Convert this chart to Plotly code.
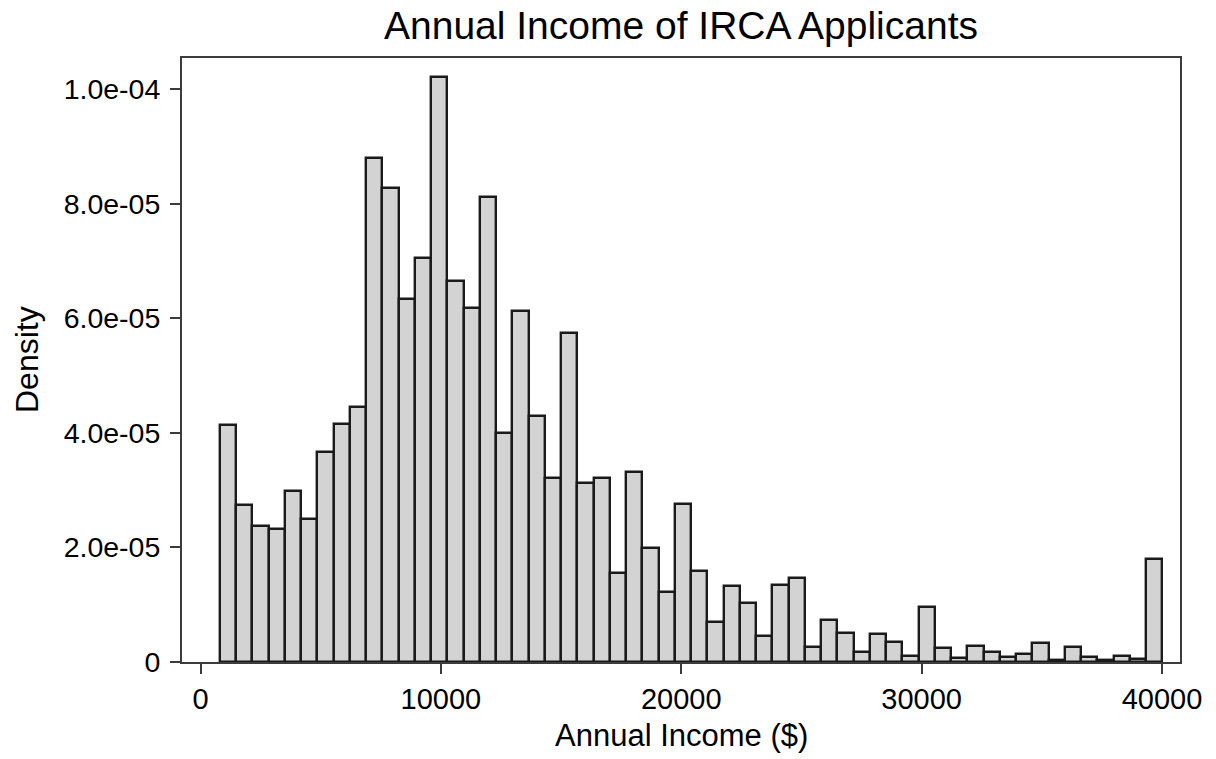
import plotly.graph_objects as go

# Histogram of annual income: 58 equal-width bins, density scale
bin_start = 810
bin_width = 676
density_e6 = [
    41.3, 27.4, 23.7, 23.2, 29.9, 24.9, 36.6, 41.6, 44.5, 88.0,
    82.8, 63.4, 70.5, 102.0, 66.5, 61.8, 81.1, 40.0, 61.3, 42.9,
    32.1, 57.4, 31.2, 32.1, 15.6, 33.2, 19.9, 12.2, 27.5, 15.9,
    7.0, 13.2, 10.3, 4.6, 13.5, 14.7, 2.6, 7.3, 5.1, 1.8,
    4.9, 3.5, 1.1, 9.6, 2.5, 0.7, 2.8, 1.7, 0.8, 1.4,
    3.4, 0.3, 2.6, 0.8, 0.3, 1.0, 0.5, 18.0,
]

x_tick_vals = [0, 10000, 20000, 30000, 40000]
x_tick_text = ["0", "10000", "20000", "30000", "40000"]
y_tick_vals = [0, 2e-5, 4e-5, 6e-5, 8e-5, 1e-4]
y_tick_text = ["0", "2.0e-05", "4.0e-05", "6.0e-05", "8.0e-05", "1.0e-04"]

centers = [bin_start + bin_width * (i + 0.5) for i in range(len(density_e6))]
density = [d * 1e-6 for d in density_e6]

FONT = "Liberation Sans, Arial, Helvetica, sans-serif"
INK = "#1a1a1a"
FRAME = "#3c3c3c"

fig = go.Figure(
    go.Bar(
        x=centers,
        y=density,
        width=bin_width,
        marker=dict(color="#d3d3d3", line=dict(color=INK, width=2.4)),
        hoverinfo="skip",
    )
)

fig.update_layout(
    width=1216,
    height=759,
    margin=dict(l=182, r=36, t=58, b=97),
    paper_bgcolor="white",
    plot_bgcolor="white",
    showlegend=False,
    bargap=0,
    font=dict(family=FONT, color="black"),
    title=dict(
        text="Annual Income of IRCA Applicants",
        font=dict(family=FONT, size=39, color="black"),
        x=0.5, xref="paper", xanchor="center",
        y=1 - 25 / 759, yref="container", yanchor="middle",
    ),
    xaxis=dict(
        range=[-770, 40749],
        tickvals=x_tick_vals,
        ticktext=x_tick_text,
        ticks="outside",
        ticklen=10,
        tickwidth=1.5,
        tickcolor=FRAME,
        tickfont=dict(family=FONT, size=29, color="black"),
        showgrid=False,
        zeroline=False,
        showline=True,
        linecolor=FRAME,
        linewidth=2,
        mirror=True,
    ),
    yaxis=dict(
        range=[0, 1.054e-4],
        tickvals=y_tick_vals,
        ticktext=y_tick_text,
        ticks="outside",
        ticklen=10,
        tickwidth=1.5,
        tickcolor=FRAME,
        tickfont=dict(family=FONT, size=28.5, color="black"),
        ticklabelstandoff=4,
        showgrid=False,
        zeroline=False,
        showline=True,
        linecolor=FRAME,
        linewidth=2,
        mirror=True,
    ),
    annotations=[
        dict(
            text="Annual Income ($)",
            xref="paper", yref="paper",
            x=0.5, y=-(735 - 662) / (662 - 58),
            xanchor="center", yanchor="middle",
            showarrow=False,
            font=dict(family=FONT, size=31, color="black"),
        ),
        dict(
            text="Density",
            xref="paper", yref="paper",
            x=-(182 - 27) / (1180 - 182), y=0.5,
            xanchor="center", yanchor="middle",
            textangle=-90,
            showarrow=False,
            font=dict(family=FONT, size=32, color="black"),
        ),
    ],
)

fig.write_html("out.html")
